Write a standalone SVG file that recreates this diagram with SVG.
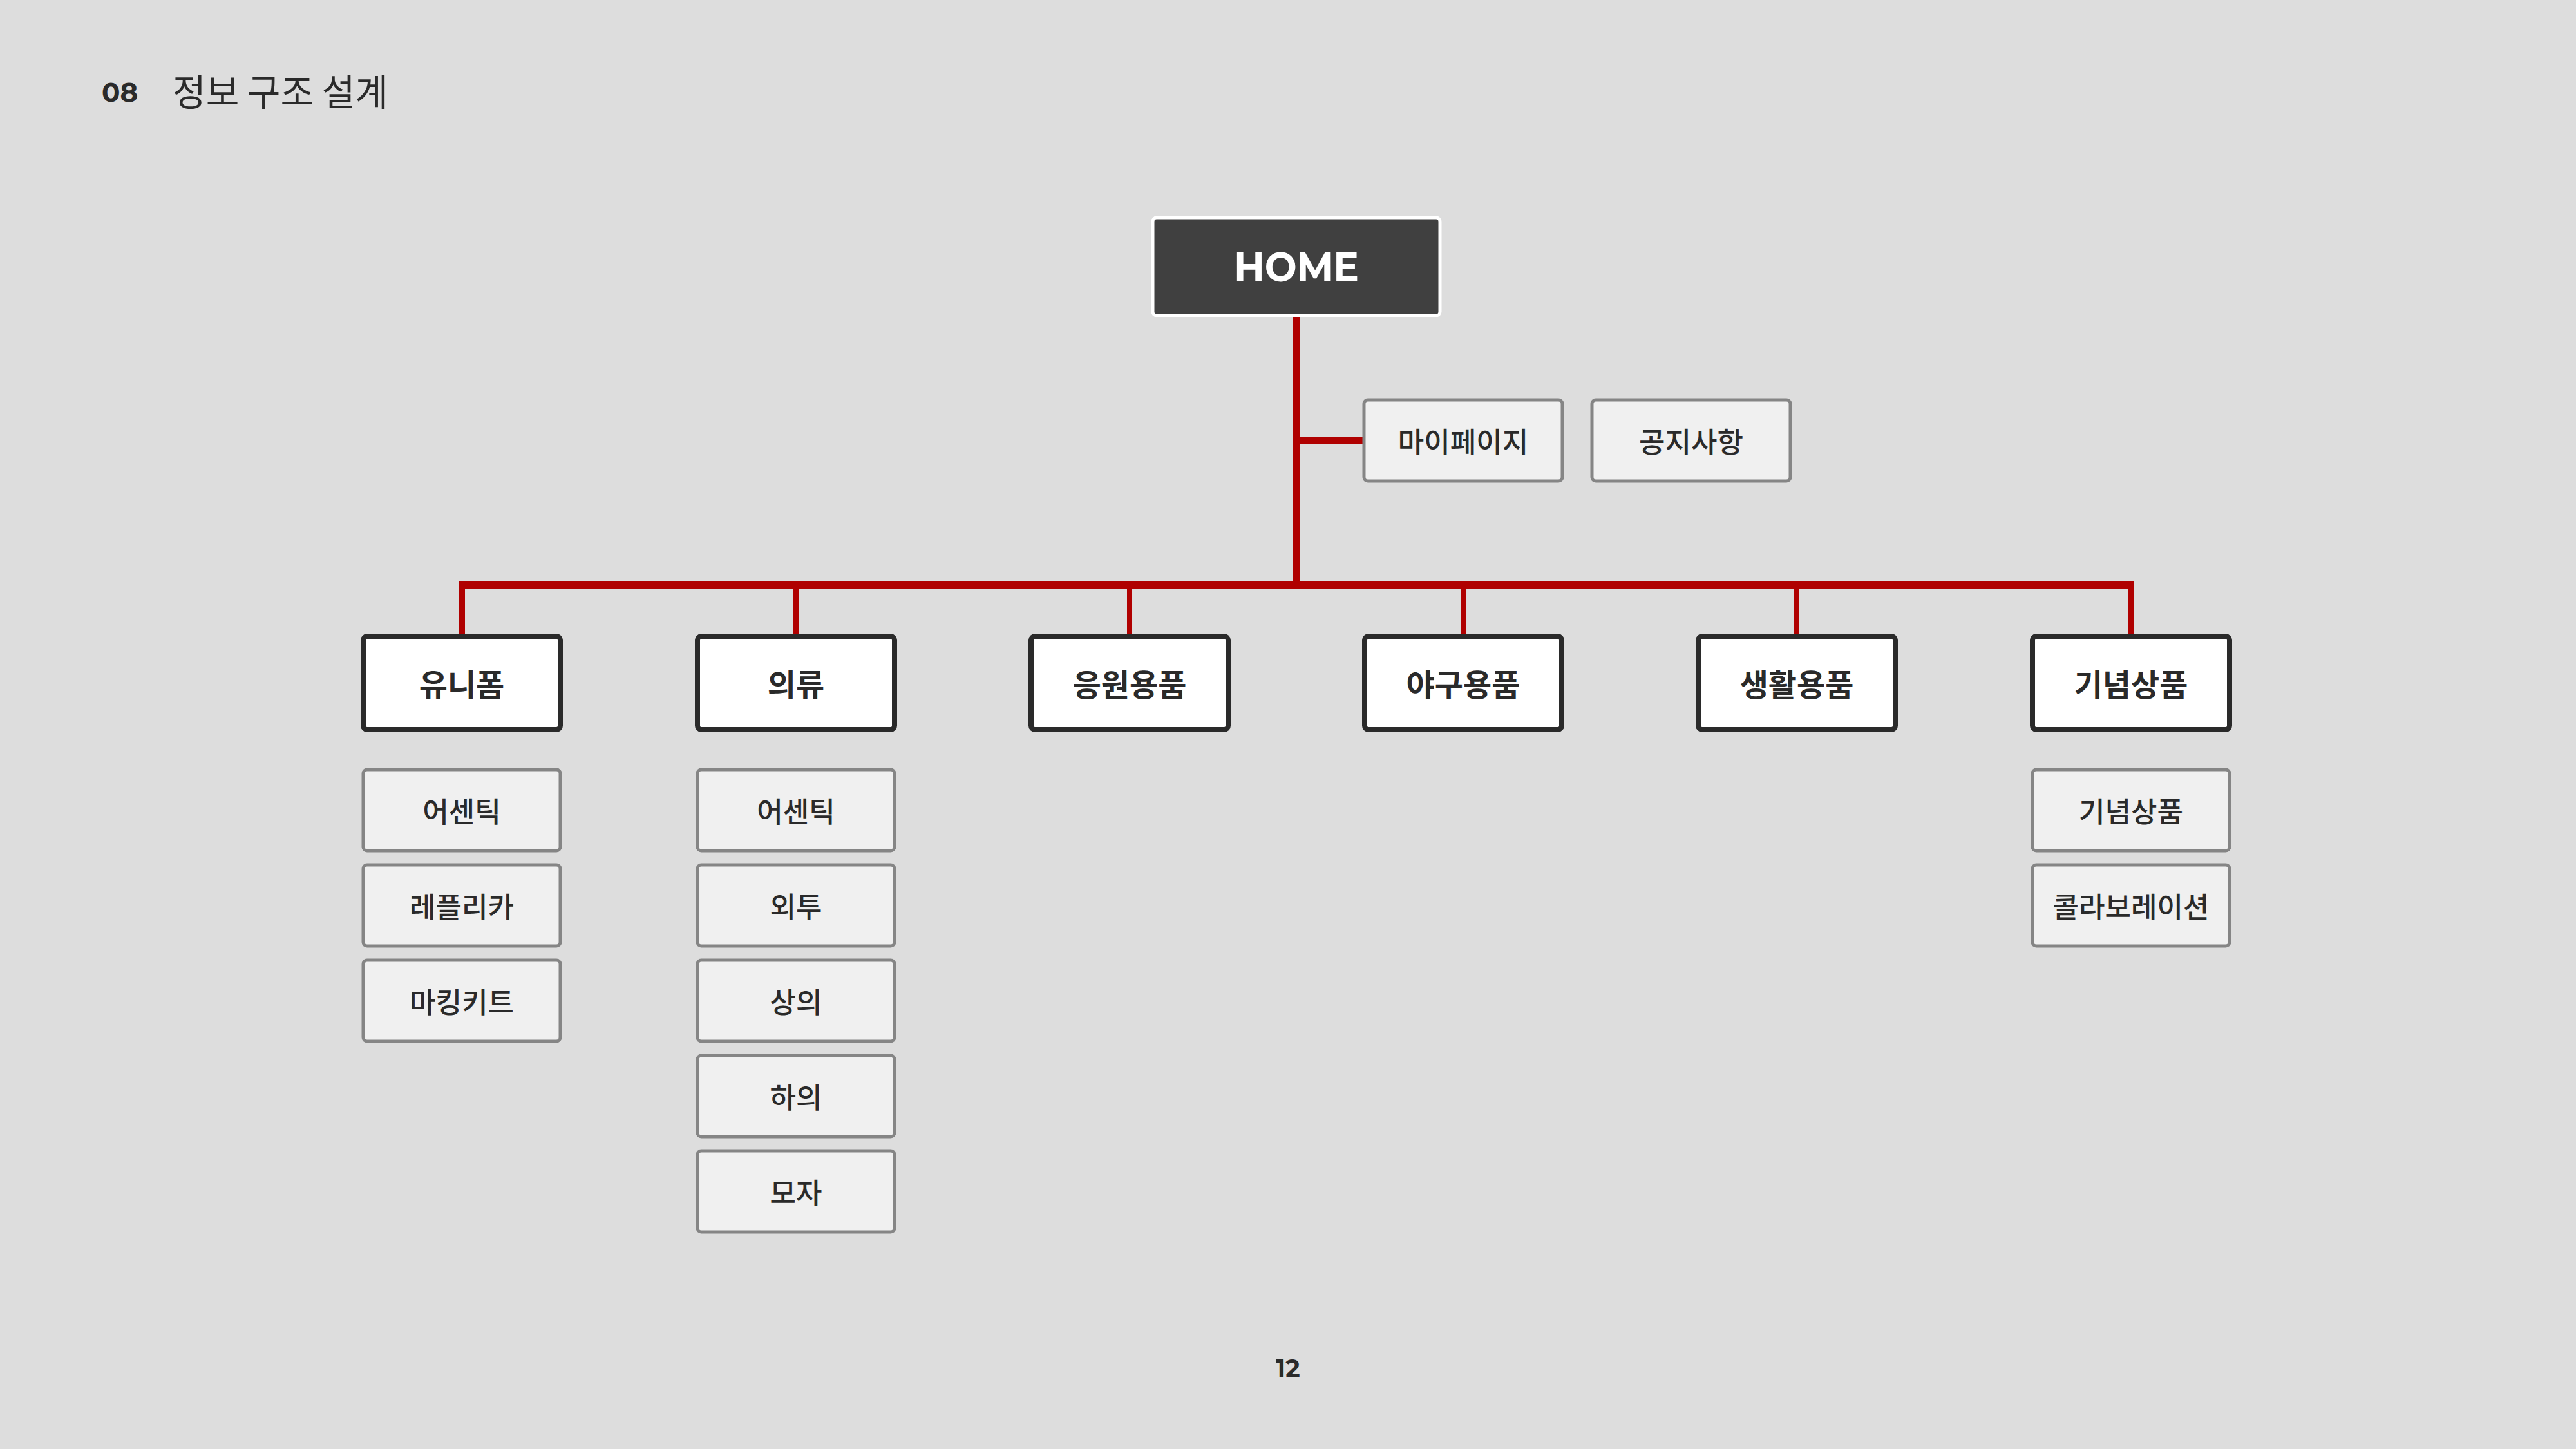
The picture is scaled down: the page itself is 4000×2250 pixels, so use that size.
<svg xmlns="http://www.w3.org/2000/svg" width="4000" height="2250" viewBox="0 0 4000 2250">
<style>
.cat rect{fill:#ffffff;stroke:#2a2a2a;stroke-width:8}
.sub rect{fill:#f0f0f0;stroke:#858585;stroke-width:5}
.cat text{font-family:"Noto Sans CJK KR","Noto Sans",sans-serif;font-weight:700;font-size:48px;fill:#2a2a2a;text-anchor:middle;dominant-baseline:central}
.sub text{font-family:"Noto Sans CJK KR","Noto Sans",sans-serif;font-weight:500;font-size:44px;fill:#2a2a2a;text-anchor:middle;dominant-baseline:central}
.ln{stroke:#b00000;fill:none;stroke-linecap:butt}
</style>
<rect width="4000" height="2250" fill="#dddddd"/>
<text x="158" y="158" font-family="Montserrat,'Noto Sans',sans-serif" font-weight="700" font-size="42" fill="#2a2a2a">08</text>
<text x="268" y="164" font-family="'Noto Sans CJK KR','Noto Sans',sans-serif" font-weight="400" font-size="57" fill="#2a2a2a" textLength="335" lengthAdjust="spacingAndGlyphs">정보 구조 설계</text>
<text x="2000" y="2138" font-family="Montserrat,'Noto Sans',sans-serif" font-weight="700" font-size="38" fill="#2a2a2a" text-anchor="middle">12</text>
<g id="connectors">
<line class="ln" x1="2013" y1="490" x2="2013" y2="914" stroke-width="10"/>
<line class="ln" x1="2013" y1="684" x2="2118" y2="684" stroke-width="12"/>
<line class="ln" x1="712" y1="908" x2="3314" y2="908" stroke-width="12"/>
<line class="ln" x1="717" y1="908" x2="717" y2="988" stroke-width="10"/>
<line class="ln" x1="1236" y1="908" x2="1236" y2="988" stroke-width="10"/>
<line class="ln" x1="1754" y1="908" x2="1754" y2="988" stroke-width="8"/>
<line class="ln" x1="2272" y1="908" x2="2272" y2="988" stroke-width="8"/>
<line class="ln" x1="2790" y1="908" x2="2790" y2="988" stroke-width="8"/>
<line class="ln" x1="3309" y1="908" x2="3309" y2="988" stroke-width="10"/>
</g>
<g id="home">
<rect x="1790" y="338" width="446" height="152" rx="6" fill="#404040" stroke="#ffffff" stroke-width="5"/>
<text x="2013" y="414" font-family="Montserrat,'Noto Sans',sans-serif" font-weight="700" font-size="64" fill="#ffffff" text-anchor="middle" dominant-baseline="central" textLength="194" lengthAdjust="spacingAndGlyphs">HOME</text>
</g>
<g id="mypage" class="sub"><rect x="2118" y="621" width="308" height="126" rx="6"/><text x="2272" y="684">마이페이지</text></g>
<g id="notice" class="sub"><rect x="2472" y="621" width="308" height="126" rx="6"/><text x="2626" y="684">공지사항</text></g>
<g id="uniform" class="cat"><rect x="564" y="988" width="306" height="145" rx="6"/><text x="717" y="1060">유니폼</text></g>
<g id="clothing" class="cat"><rect x="1083" y="988" width="306" height="145" rx="6"/><text x="1236" y="1060">의류</text></g>
<g id="cheer" class="cat"><rect x="1601" y="988" width="306" height="145" rx="6"/><text x="1754" y="1060">응원용품</text></g>
<g id="baseball" class="cat"><rect x="2119" y="988" width="306" height="145" rx="6"/><text x="2272" y="1060">야구용품</text></g>
<g id="living" class="cat"><rect x="2637" y="988" width="306" height="145" rx="6"/><text x="2790" y="1060">생활용품</text></g>
<g id="souvenir" class="cat"><rect x="3156" y="988" width="306" height="145" rx="6"/><text x="3309" y="1060">기념상품</text></g>
<g id="u-authentic" class="sub"><rect x="564" y="1195" width="306" height="126" rx="6"/><text x="717" y="1258">어센틱</text></g>
<g id="u-replica" class="sub"><rect x="564" y="1343" width="306" height="126" rx="6"/><text x="717" y="1406">레플리카</text></g>
<g id="u-marking" class="sub"><rect x="564" y="1491" width="306" height="126" rx="6"/><text x="717" y="1554">마킹키트</text></g>
<g id="c-authentic" class="sub"><rect x="1083" y="1195" width="306" height="126" rx="6"/><text x="1236" y="1258">어센틱</text></g>
<g id="c-outer" class="sub"><rect x="1083" y="1343" width="306" height="126" rx="6"/><text x="1236" y="1406">외투</text></g>
<g id="c-top" class="sub"><rect x="1083" y="1491" width="306" height="126" rx="6"/><text x="1236" y="1554">상의</text></g>
<g id="c-bottom" class="sub"><rect x="1083" y="1639" width="306" height="126" rx="6"/><text x="1236" y="1702">하의</text></g>
<g id="c-hat" class="sub"><rect x="1083" y="1787" width="306" height="126" rx="6"/><text x="1236" y="1850">모자</text></g>
<g id="s-souvenir" class="sub"><rect x="3156" y="1195" width="306" height="126" rx="6"/><text x="3309" y="1258">기념상품</text></g>
<g id="s-collab" class="sub"><rect x="3156" y="1343" width="306" height="126" rx="6"/><text x="3309" y="1406">콜라보레이션</text></g>
</svg>
